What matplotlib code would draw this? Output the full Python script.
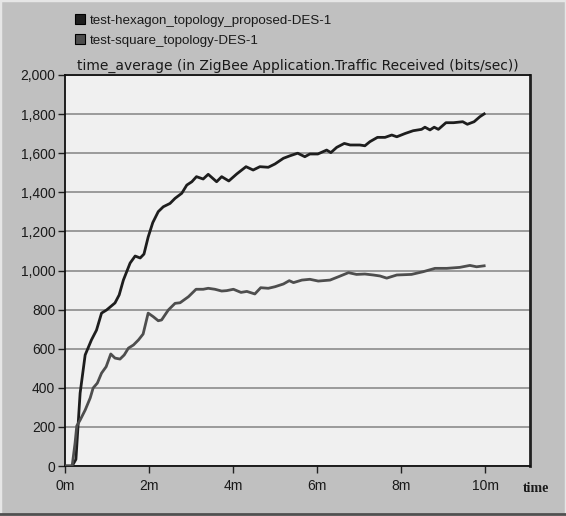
import matplotlib
matplotlib.use("Agg")
import matplotlib.pyplot as plt
from matplotlib.patches import Patch, Rectangle
from matplotlib.ticker import FuncFormatter, MultipleLocator

# simulated time (minutes) and traffic received (bits/sec)
hex_t = [0, 0.17, 0.26, 0.36, 0.48, 0.63, 0.75, 0.87, 0.99, 1.19, 1.29, 1.39,
         1.55, 1.67, 1.79, 1.88, 1.98, 2.09, 2.22, 2.34, 2.50, 2.62, 2.78, 2.90,
         3.02, 3.13, 3.29, 3.41, 3.61, 3.73, 3.90, 4.09, 4.31, 4.48, 4.64, 4.84,
         5.00, 5.20, 5.36, 5.54, 5.71, 5.83, 6.02, 6.23, 6.33, 6.47, 6.65, 6.79,
         7.02, 7.14, 7.26, 7.44, 7.62, 7.78, 7.90, 8.10, 8.29, 8.49, 8.57, 8.69,
         8.79, 8.89, 9.07, 9.25, 9.47, 9.58, 9.74, 9.88, 9.98]
hex_v = [0, 0, 34, 373, 568, 645, 695, 782, 798, 834, 875, 951,
         1038, 1074, 1064, 1084, 1171, 1245, 1301, 1326, 1343, 1369, 1395, 1437,
         1454, 1480, 1468, 1492, 1454, 1480, 1458, 1494, 1531, 1514, 1531, 1528,
         1545, 1574, 1587, 1600, 1582, 1596, 1596, 1616, 1603, 1630, 1650, 1642,
         1642, 1638, 1659, 1681, 1681, 1693, 1684, 1701, 1715, 1722, 1733, 1719,
         1733, 1722, 1756, 1756, 1761, 1748, 1761, 1787, 1801]

sq_t = [0, 0.17, 0.24, 0.28, 0.36, 0.48, 0.60, 0.67, 0.77, 0.87, 0.98, 1.09,
        1.19, 1.31, 1.41, 1.51, 1.63, 1.75, 1.86, 1.98, 2.10, 2.22, 2.30, 2.46,
        2.62, 2.74, 2.94, 3.12, 3.29, 3.41, 3.57, 3.73, 3.85, 4.01, 4.19, 4.33,
        4.52, 4.66, 4.84, 5.00, 5.20, 5.34, 5.44, 5.64, 5.83, 6.03, 6.31, 6.51,
        6.75, 6.94, 7.14, 7.34, 7.50, 7.66, 7.90, 8.25, 8.53, 8.81, 9.09, 9.40,
        9.64, 9.80, 9.98]
sq_v = [0, 0, 118, 205, 235, 286, 348, 399, 424, 475, 508, 573,
        552, 547, 568, 603, 619, 645, 675, 782, 764, 743, 747, 798,
        832, 835, 866, 904, 904, 909, 904, 895, 897, 904, 888, 893,
        880, 912, 909, 917, 931, 948, 938, 951, 955, 946, 951, 968,
        989, 980, 982, 977, 972, 961, 977, 980, 994, 1011, 1011, 1016,
        1026, 1019, 1024]

series_names = ["test-hexagon_topology_proposed-DES-1", "test-square_topology-DES-1"]
series_colors = ["#1e1e1e", "#4e4e4e"]
title = "time_average (in ZigBee Application.Traffic Received (bits/sec))"

W, H = 566, 516
fig = plt.figure(figsize=(W / 100, H / 100), dpi=100)
fig.patch.set_facecolor("#c0c0c0")
plt.rcParams["font.family"] = ["Liberation Sans", "DejaVu Sans"]

# bevelled window border
fig.patches.append(Rectangle((0, 0), 1, 1, transform=fig.transFigure,
                             fill=False, edgecolor="#e6e6e6", linewidth=2.5))
fig.add_artist(plt.Line2D([0, 1], [2.5 / H, 2.5 / H], transform=fig.transFigure,
                          color="#505050", linewidth=2))

ax = fig.add_axes([65 / W, 1 - 466 / H, 465 / W, 391 / H])
ax.set_facecolor("#f0f0f0")

ax.plot(hex_t, hex_v, color=series_colors[0], linewidth=2, zorder=3)
ax.plot(sq_t, sq_v, color=series_colors[1], linewidth=2, zorder=3)

ax.set_xlim(0, 465 / 42)
ax.set_ylim(0, 2000)
ax.xaxis.set_major_locator(MultipleLocator(2))
ax.yaxis.set_major_locator(MultipleLocator(200))
ax.xaxis.set_major_formatter(FuncFormatter(lambda v, p: f"{int(v)}m"))
ax.yaxis.set_major_formatter(FuncFormatter(lambda v, p: f"{int(v):,}"))
ax.grid(axis="y", color="#9a9a9a", linewidth=1.4)
ax.set_axisbelow(True)

for side in ["left", "bottom", "top"]:
    ax.spines[side].set_color("#101010")
    ax.spines[side].set_linewidth(1.3)
ax.spines["right"].set_color("#202020")
ax.spines["right"].set_linewidth(2)

ax.tick_params(axis="both", direction="out", length=5, width=1, color="#202020",
               labelsize=10, labelcolor="#1a1a1a")
ax.tick_params(axis="y", pad=2)
ax.tick_params(axis="x", pad=4)

ax.set_title(title, fontsize=10, color="#1a1a1a", pad=4, family="DejaVu Sans")
fig.text(536 / W, 1 - 488 / H, "time", family=["Liberation Serif", "DejaVu Serif"],
         fontsize=10, fontweight="bold", color="#1a1a1a", ha="center", va="center")

handles = [Patch(facecolor=c, edgecolor="#000000", linewidth=0.8) for c in series_colors]
fig.legend(handles, series_names, loc="upper left", bbox_to_anchor=(70 / W, 1 - 9 / H),
           frameon=False, fontsize=9.6, handlelength=0.75, handleheight=0.75,
           handletextpad=0.3, labelspacing=0.55, borderaxespad=0, labelcolor="#1a1a1a")

fig.savefig("out.png", dpi=100, facecolor=fig.get_facecolor())
